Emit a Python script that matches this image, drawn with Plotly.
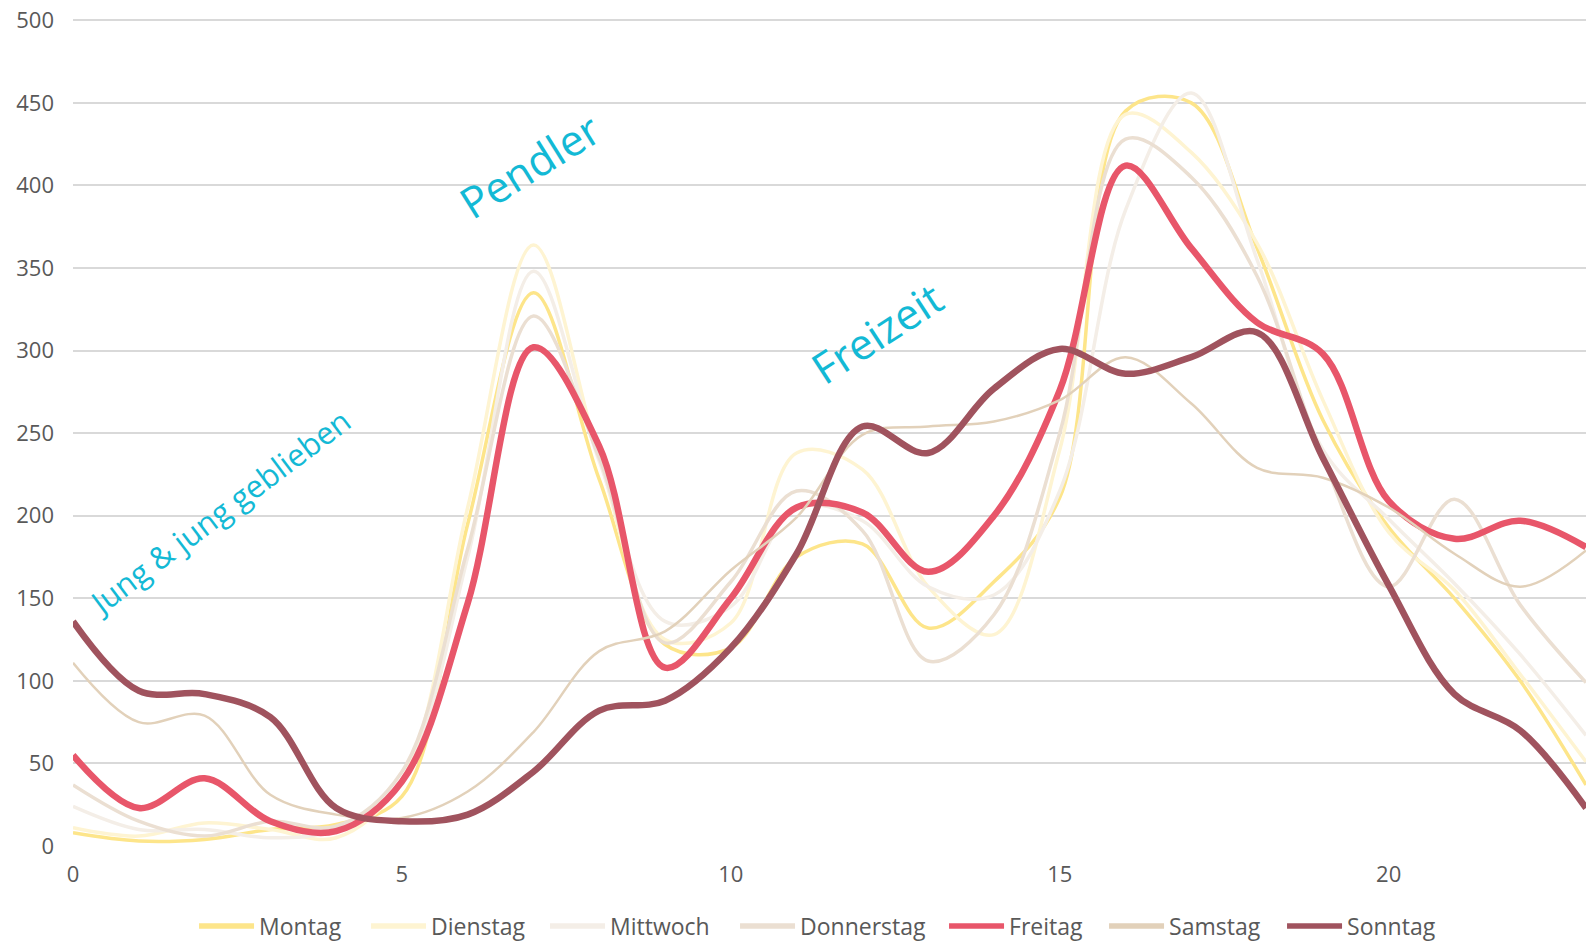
import plotly.graph_objects as go

hours = list(range(24))

montag = [8, 3, 4, 10, 13, 30, 195, 335, 222, 122, 120, 175, 183, 132, 160, 211, 445, 450, 362, 258, 193, 150, 100, 37]
dienstag = [11, 6, 14, 10, 5, 40, 205, 364, 235, 125, 135, 238, 228, 157, 128, 240, 443, 420, 365, 270, 190, 155, 104, 51]
mittwoch = [24, 10, 10, 5, 10, 40, 175, 348, 233, 136, 145, 205, 197, 157, 152, 215, 385, 456, 355, 240, 198, 159, 116, 67]
donnerstag = [37, 15, 6, 15, 12, 45, 180, 321, 235, 123, 160, 215, 191, 112, 140, 250, 428, 405, 345, 235, 157, 210, 146, 99]
freitag = [55, 23, 41, 15, 9, 39, 147, 302, 242, 108, 150, 205, 202, 166, 200, 276, 412, 362, 317, 298, 209, 186, 197, 181]
samstag = [111, 75, 79, 31, 19, 17, 33, 69, 118, 130, 167, 199, 249, 254, 257, 270, 296, 268, 229, 223, 205, 177, 157, 179]
sonntag = [136, 94, 92, 78, 23, 15, 19, 45, 82, 88, 120, 177, 254, 238, 277, 301, 286, 296, 311, 235, 158, 92, 70, 23]

series_names = ["Montag", "Dienstag", "Mittwoch", "Donnerstag", "Freitag", "Samstag", "Sonntag"]
series_values = [montag, dienstag, mittwoch, donnerstag, freitag, samstag, sonntag]
series_colors = ["#fde58a", "#fef4d2", "#f4eee7", "#ebdfd2", "#e8566a", "#e2d1ba", "#a0535e"]
series_widths = [3.5, 3.5, 3.5, 3.5, 6.5, 2.5, 6.5]
legend_entry_widths = [102, 109, 120, 139, 90, 108, 90]

x_ticks = [0, 5, 10, 15, 20]
y_ticks = [0, 50, 100, 150, 200, 250, 300, 350, 400, 450, 500]

annotations_text = ["Jung & jung geblieben", "Pendler", "Freizeit"]
annotations_x = [2.22, 6.94, 12.22]
annotations_y = [202, 412, 311]
annotations_angle = [-37, -32, -33]
annotations_size = [31, 43, 43]

fig = go.Figure()
for name, vals, col, w in zip(series_names, series_values, series_colors, series_widths):
    fig.add_trace(go.Scatter(
        x=hours, y=vals, name=name, mode="lines", showlegend=False, legendgroup=name,
        line=dict(color=col, width=w, shape="spline", smoothing=1.0),
    ))
# legend entries (same series, drawn with uniform thick legend symbols)
for name, col, lw in zip(series_names, series_colors, legend_entry_widths):
    fig.add_trace(go.Scatter(
        x=[None], y=[None], name=name, mode="lines", showlegend=True, legendgroup=name,
        legendwidth=lw, line=dict(color=col, width=5.5), hoverinfo="skip",
    ))

for t, ax, ay, ang, sz in zip(annotations_text, annotations_x, annotations_y, annotations_angle, annotations_size):
    fig.add_annotation(
        x=ax, y=ay, text=t, showarrow=False, textangle=ang,
        font=dict(family="Open Sans, sans-serif", size=sz, color="#13b9d5"),
    )

fig.update_layout(
    width=1589, height=941,
    paper_bgcolor="white", plot_bgcolor="white",
    margin=dict(l=73, r=3, t=17, b=95, autoexpand=False),
    font=dict(family="Open Sans, sans-serif", size=22, color="#595959"),
    showlegend=True,
    legend=dict(orientation="h", x=0.08, xanchor="left", y=-0.0965, yanchor="middle",
                font=dict(size=23, color="#595959"), tracegroupgap=0, itemwidth=55),
)
fig.update_xaxes(
    range=[0, 23], tickvals=x_ticks, showgrid=False, zeroline=False, showline=False,
    ticks="", ticklabelstandoff=13, tickfont=dict(size=22, color="#595959"),
    automargin=False,
)
fig.update_yaxes(
    range=[0, 502], tickvals=y_ticks, showgrid=True, gridcolor="#d9d9d9", gridwidth=1.5,
    zeroline=False, showline=False, ticks="", ticklabelstandoff=18,
    tickfont=dict(size=22, color="#595959"), automargin=False,
)

fig.write_html("out.html", config={"displayModeBar": False},
               post_script="document.body.style.margin='0';document.body.style.overflow='hidden';")
